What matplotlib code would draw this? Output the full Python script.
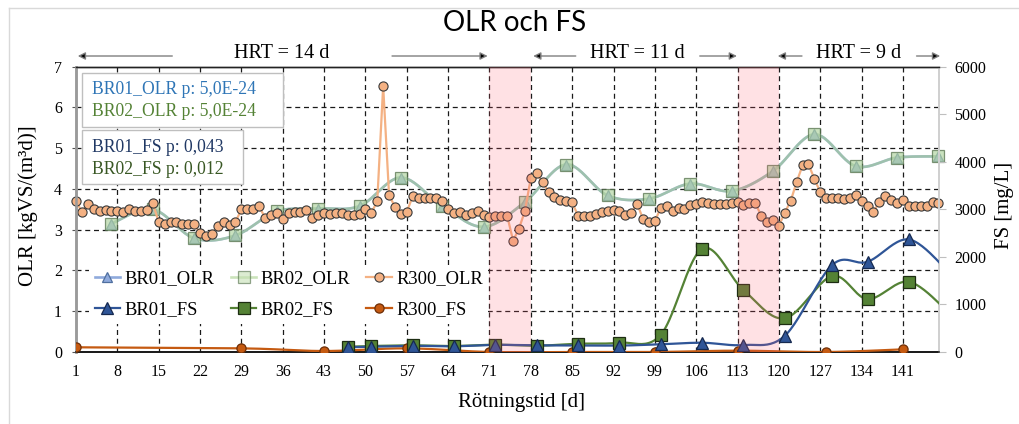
import numpy as np
import matplotlib
matplotlib.use("Agg")
import matplotlib.pyplot as plt
from matplotlib.lines import Line2D
from matplotlib.patches import Rectangle
from matplotlib.transforms import blended_transform_factory

# ---------------------------------------------------------------- data
# Daily organic loading rate of reference reactor R300, kgVS/(m3 d)
r300_olr_days = list(range(1, 148))
r300_olr = [
    3.71, 3.43, 3.62, 3.50, 3.46, 3.49, 3.47, 3.46, 3.44, 3.50,
    3.46, 3.46, 3.48, 3.65, 3.19, 3.15, 3.19, 3.20, 3.14, 3.14,
    3.14, 2.92, 2.84, 2.89, 3.10, 3.20, 3.11, 3.19, 3.50, 3.50,
    3.52, 3.58, 3.29, 3.35, 3.40, 3.27, 3.42, 3.44, 3.44, 3.49,
    3.30, 3.36, 3.41, 3.38, 3.41, 3.40, 3.37, 3.36, 3.39, 3.50,
    3.41, 3.70, 6.53, 3.85, 3.56, 3.38, 3.44, 3.82, 3.78, 3.79,
    3.79, 3.79, 3.71, 3.51, 3.41, 3.44, 3.36, 3.41, 3.46, 3.36,
    3.32, 3.33, 3.33, 3.34, 2.73, 3.03, 3.46, 4.27, 4.38, 4.17,
    3.92, 3.81, 3.73, 3.71, 3.67, 3.34, 3.33, 3.33, 3.38, 3.44,
    3.46, 3.48, 3.45, 3.36, 3.42, 3.64, 3.26, 3.20, 3.21, 3.54,
    3.57, 3.47, 3.54, 3.52, 3.60, 3.62, 3.67, 3.65, 3.64, 3.64,
    3.64, 3.66, 3.67, 3.60, 3.66, 3.66, 3.34, 3.20, 3.25, 3.10,
    3.42, 3.71, 4.17, 4.58, 4.61, 4.25, 3.92, 3.77, 3.77, 3.77,
    3.76, 3.78, 3.86, 3.70, 3.57, 3.44, 3.68, 3.82, 3.73, 3.66,
    3.72, 3.58, 3.58, 3.58, 3.58, 3.69, 3.66,
]

# Weekly organic loading rate of the two bioreactors, kgVS/(m3 d)
br_olr_days = list(range(7, 148, 7))
br01_olr = [3.15, 3.50, 2.79, 2.86, 3.45, 3.52, 3.58, 4.28, 3.58, 3.07,
            3.68, 4.60, 3.84, 3.76, 4.13, 3.95, 4.44, 5.34, 4.56, 4.77, 4.80]
br02_olr = [3.15, 3.50, 2.79, 2.86, 3.45, 3.52, 3.58, 4.28, 3.58, 3.07,
            3.68, 4.60, 3.84, 3.76, 4.13, 3.95, 4.44, 5.34, 4.56, 4.77, 4.80]

# Volatile fatty acids (FS), mg/L
br_fs_days = [47, 51, 58, 65, 72, 79, 86, 93, 100, 107, 114, 121, 129, 135, 142, 149]
br01_fs = [100, 110, 130, 120, 150, 140, 140, 135, 162, 195, 147, 342,
           1828, 1897, 2367, 1650]
br02_fs = [111, 126, 140, 126, 154, 132, 174, 195, 363, 2170, 1302, 708,
           1597, 1113, 1477, 800]
r300_fs_days = [1, 29, 43, 57, 71, 85, 99, 113, 128, 141]
r300_fs = [99, 77, 21, 77, 0, 0, 0, 28, 0, 56]

# Transition periods between hydraulic retention times
transitions = [(71, 78), (113, 120)]
hrt_labels = ["HRT = 14 d", "HRT = 11 d", "HRT = 9 d"]

p_olr_lines = ["BR01_OLR p: 5,0E-24", "BR02_OLR p: 5,0E-24"]
p_fs_lines = ["BR01_FS p: 0,043", "BR02_FS p: 0,012"]

x_ticks = list(range(1, 142, 7))

# ---------------------------------------------------------------- style
plt.rcParams["font.family"] = ["Liberation Serif", "DejaVu Serif"]

C_BR01_OLR = "#8faadc"
C_BR02_OLR = "#a9d18e"
C_R300_OLR = "#f4b183"
C_BR01_FS = "#2f5597"
C_BR02_FS = "#548235"
C_R300_FS = "#c55a11"

W, H = 1019, 424
fig = plt.figure(figsize=(W / 100, H / 100), dpi=100)
L, R, T, B = 76, 939, 66.7, 352
ax = fig.add_axes([L / W, 1 - B / H, (R - L) / W, (B - T) / H])
ax2 = ax.twinx()

ax.set_xlim(1, 147.1)
ax.set_ylim(0, 7)
ax2.set_ylim(0, 6000)


def smooth_line(axis, xs, ys, n=24):
    """Catmull-Rom curve through the points, built in display space."""
    pts = axis.transData.transform(np.column_stack([xs, ys]).astype(float))
    ext = np.vstack([pts[0], pts, pts[-1]])
    t = np.linspace(0, 1, n, endpoint=False)[:, None]
    segs = []
    for i in range(len(pts) - 1):
        p0, p1, p2, p3 = ext[i], ext[i + 1], ext[i + 2], ext[i + 3]
        segs.append(0.5 * (2 * p1 + (p2 - p0) * t
                           + (2 * p0 - 5 * p1 + 4 * p2 - p3) * t ** 2
                           + (3 * p1 - p0 - 3 * p2 + p3) * t ** 3))
    segs.append(pts[-1:])
    curve = axis.transData.inverted().transform(np.vstack(segs))
    return curve[:, 0], curve[:, 1]


# grid
for yv in range(1, 7):
    ax.axhline(yv, color="#1a1a1a", lw=0.9, dashes=(4, 3), zorder=1)
for xv in x_ticks[1:]:
    ax.axvline(xv, color="#1a1a1a", lw=0.9, dashes=(4, 3), zorder=1)

# OLR series (left axis)
cx, cy = smooth_line(ax, br_olr_days, br01_olr)
ax.plot(cx, cy, color=C_BR01_OLR, lw=1.9, zorder=3)
ax.plot(br_olr_days, br01_olr, ls="none", marker="^", ms=7.5,
        mfc=C_BR01_OLR, mec="#4f6f9f", mew=0.9, zorder=4, clip_on=False)
cx, cy = smooth_line(ax, br_olr_days, br02_olr)
ax.plot(cx, cy, color=C_BR02_OLR, lw=1.9, alpha=0.6, zorder=3)
ax.plot(br_olr_days, br02_olr, ls="none", marker="s", ms=9,
        mfc="#b4d6a4", mec="#4d6b45", mew=0.9, alpha=0.7, zorder=4,
        clip_on=False)

ax.plot(r300_olr_days, r300_olr, color=C_R300_OLR, lw=1.6, zorder=5)
ax.plot(r300_olr_days, r300_olr, ls="none", marker="o", ms=6.6,
        mfc=C_R300_OLR, mec="#3a3a3a", mew=0.8, zorder=6, clip_on=False)

# FS series (right axis)
for days, vals, col, mk, ms, mec in [
    (r300_fs_days, r300_fs, C_R300_FS, "o", 6.6, "#6e2e06"),
    (br_fs_days, br02_fs, C_BR02_FS, "s", 9, "#1d2d12"),
    (br_fs_days, br01_fs, C_BR01_FS, "^", 9, "#16294f"),
]:
    cx, cy = smooth_line(ax2, days, vals)
    ax2.plot(cx, cy, color=col, lw=1.6, zorder=3)
    ax2.plot(days, vals, ls="none", marker=mk, ms=ms, mfc=col, mec=mec,
             mew=0.9, zorder=4)

# transition periods drawn over the data
for x0, x1 in transitions:
    ax2.axvspan(x0, x1, color="#ff5a6e", alpha=0.18, lw=0, zorder=10)

# axes styling
ax.set_xticks(x_ticks)
ax.set_yticks(range(0, 8))
ax2.set_yticks(range(0, 6001, 1000))
ax.tick_params(axis="x", length=0, pad=9, labelsize=11.5)
ax.tick_params(axis="y", length=3, color="#555555", pad=7, labelsize=11.5)
ax2.tick_params(axis="y", length=5, color="#bfbfbf", pad=6, labelsize=11.5)

for a in (ax, ax2):
    a.spines["left"].set_color("#9a9a9a")
    a.spines["left"].set_linewidth(1.8)
    a.spines["bottom"].set_color("#111111")
    a.spines["bottom"].set_linewidth(1.1)
    a.spines["top"].set_color("#222222")
    a.spines["top"].set_linewidth(1.0)
    a.spines["right"].set_color("#d0d0d0")
    a.spines["right"].set_linewidth(1.4)

ax.set_xlabel("Rötningstid [d]", fontsize=15)
ax.xaxis.set_label_coords((521 - L) / (R - L), (B - 393) / (B - T))
ax.set_ylabel("OLR [kgVS/(m³d)]", fontsize=15)
ax.yaxis.set_label_coords(-(L - 38) / (R - L), 0.513)
ax2.set_ylabel("FS [mg/L]", fontsize=15, rotation=90)
ax2.yaxis.set_label_coords((995 - L) / (R - L), 0.513)

# HRT phase annotations above the plot area
bt = blended_transform_factory(ax.transData, ax.transAxes)
hrt_text_x = [35.9, 96.1, 133.4]
hrt_arrows = [(17.3, 1.3), (54.5, 70.7), (85.6, 78.4), (106.6, 112.9),
              (123.9, 119.8), (143.3, 147.3)]
for lbl, xt in zip(hrt_labels, hrt_text_x):
    ax2.text(xt, 1.045, lbl, transform=bt, ha="center", va="center",
             fontsize=14.5)
for xs, xe in hrt_arrows:
    ax2.annotate("", xy=(xe, 1.0375), xytext=(xs, 1.0375), xycoords=bt,
                 textcoords=bt, annotation_clip=False,
                 arrowprops=dict(arrowstyle="-|>", ec="#7f7f7f", fc="black",
                                 lw=1.0, mutation_scale=11, shrinkA=0,
                                 shrinkB=0))

# p-value boxes
def px_ax(px, py):
    return (px - L) / (R - L), (B - py) / (B - T)


for (bx0, by0, bx1, by1), lines, cols in [
    ((82, 73, 283, 127), p_olr_lines, ["#2e75b6", "#548235"]),
    ((82, 130, 243, 184), p_fs_lines, ["#203864", "#385723"]),
]:
    x0, y0 = px_ax(bx0, by1)
    x1, y1 = px_ax(bx1, by0)
    ax2.add_patch(Rectangle((x0, y0), x1 - x0, y1 - y0, transform=ax.transAxes,
                            fc="white", ec="#bfbfbf", lw=1.0, zorder=11,
                            clip_on=False))
    for k, (txt, c) in enumerate(zip(lines, cols)):
        tx, ty = px_ax(92, by0 + 17 + 22 * k)
        ax2.text(tx, ty, txt, transform=ax.transAxes, color=c, fontsize=12.7,
                 va="center", ha="left", zorder=12)

# legend
handles = [
    Line2D([], [], color=C_BR01_OLR, lw=1.9, marker="^", ms=7.5,
           mfc=C_BR01_OLR, mec="#4f6f9f", mew=0.9),
    Line2D([], [], color=C_BR01_FS, lw=1.6, marker="^", ms=9,
           mfc=C_BR01_FS, mec="#16294f", mew=0.9),
    Line2D([], [], color=C_BR02_OLR, lw=1.9, marker="s", ms=9, alpha=0.6,
           mfc="#c5e0b4", mec="#4d6b45", mew=0.9),
    Line2D([], [], color=C_BR02_FS, lw=1.6, marker="s", ms=9,
           mfc=C_BR02_FS, mec="#1d2d12", mew=0.9),
    Line2D([], [], color=C_R300_OLR, lw=1.6, marker="o", ms=6.6,
           mfc=C_R300_OLR, mec="#3a3a3a", mew=0.8),
    Line2D([], [], color=C_R300_FS, lw=1.6, marker="o", ms=6.6,
           mfc=C_R300_FS, mec="#6e2e06", mew=0.9),
]
labels = ["BR01_OLR", "BR01_FS", "BR02_OLR", "BR02_FS", "R300_OLR", "R300_FS"]
leg = ax2.legend(handles, labels, ncol=3, loc="center left",
                 bbox_to_anchor=(px_ax(89, 0)[0], px_ax(0, 294.5)[1]),
                 borderaxespad=0, borderpad=0.3, fontsize=13.3,
                 handlelength=1.4, handletextpad=0.2, columnspacing=0.9,
                 labelspacing=0.75, frameon=True, fancybox=False,
                 framealpha=1, facecolor="white", edgecolor="none")
leg.set_zorder(12)

# title and outer frame
fig.text(515 / W, 1 - 23 / H, "OLR och FS", ha="center", va="center",
         fontsize=20, family=["Lato", "DejaVu Sans"])
fig.add_artist(Line2D([8.5 / W, 8.5 / W], [0, 1 - 7.5 / H],
                      transform=fig.transFigure, color="#d9d9d9", lw=1))
fig.add_artist(Line2D([8.5 / W, 1], [1 - 7.5 / H, 1 - 7.5 / H],
                      transform=fig.transFigure, color="#d9d9d9", lw=1))

fig.savefig("out.png", dpi=100)
